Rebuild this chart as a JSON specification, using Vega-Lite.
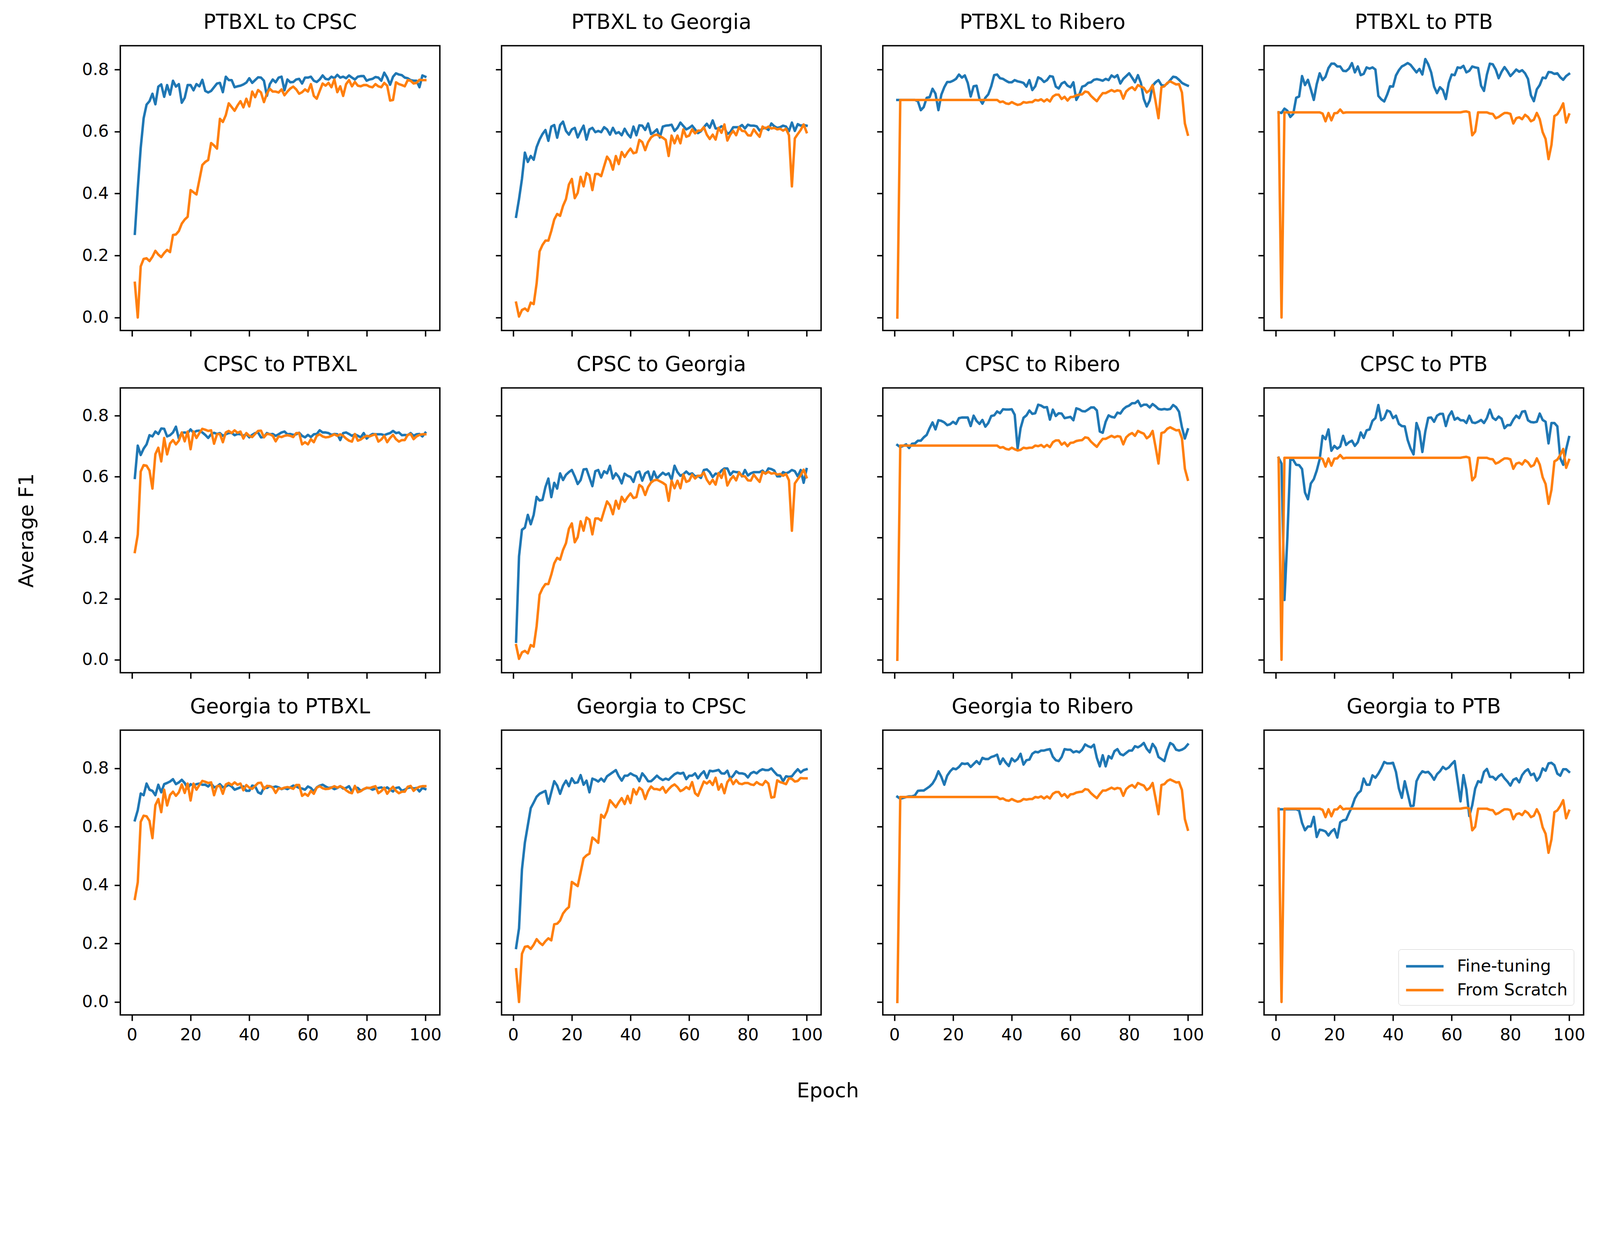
{
"$schema": "https://vega.github.io/schema/vega-lite/v6.json",
"padding": {"left": 40, "top": 30, "right": 30, "bottom": 30},
"background": "white",
"config": {
 "font": "DejaVu Sans",
 "view": {"stroke": "black", "strokeWidth": 3.6},
 "axis": {"domain": false, "grid": false, "tickColor": "black", "tickWidth": 3.6, "tickSize": 15, "labelFont": "DejaVu Sans", "labelFontSize": 43, "labelColor": "black", "labelPadding": 15, "labelFlush": false, "titleFont": "DejaVu Sans", "titleFontSize": 52, "titleFontWeight": "normal", "titleColor": "black", "titlePadding": 114},
 "title": {"font": "DejaVu Sans", "fontSize": 53, "fontWeight": "normal", "color": "black", "anchor": "middle", "frame": "group", "offset": 32, "baseline": "alphabetic"},
 "line": {"strokeWidth": 6.3, "strokeJoin": "round", "strokeCap": "square"}
},
"title": {"text": "Epoch", "orient": "bottom", "anchor": "middle", "frame": "bounds", "baseline": "top", "offset": 95, "dx": 69, "fontSize": 52, "font": "DejaVu Sans", "fontWeight": "normal", "color": "black"},
"datasets": {"d": [
{"e":1,"f1":0.27,"f2":0.325,"f3":0.702,"f4":0.662,"f5":0.596,"f6":0.059,"f7":0.704,"f8":0.662,"f9":0.622,"f10":0.185,"f11":0.703,"f12":0.66,"sc":0.112,"sg":0.048,"sr":0.0,"sp":0.662,"sx":0.353},
{"e":2,"f1":0.416,"f2":0.382,"f3":0.702,"f4":0.66,"f5":0.702,"f6":0.339,"f7":0.697,"f8":0.643,"f9":0.657,"f10":0.252,"f11":0.696,"f12":0.66,"sc":0.0,"sg":0.003,"sr":0.702,"sp":0.0,"sx":0.41},
{"e":3,"f1":0.547,"f2":0.447,"f3":0.702,"f4":0.674,"f5":0.671,"f6":0.426,"f7":0.701,"f8":0.196,"f9":0.714,"f10":0.454,"f11":0.699,"f12":0.66,"sc":0.165,"sg":0.024,"sr":0.702,"sp":0.662,"sx":0.617},
{"e":4,"f1":0.643,"f2":0.532,"f3":0.702,"f4":0.667,"f5":0.692,"f6":0.433,"f7":0.706,"f8":0.402,"f9":0.708,"f10":0.546,"f11":0.702,"f12":0.66,"sc":0.189,"sg":0.029,"sr":0.702,"sp":0.662,"sx":0.638},
{"e":5,"f1":0.687,"f2":0.502,"f3":0.702,"f4":0.647,"f5":0.706,"f6":0.475,"f7":0.694,"f8":0.657,"f9":0.748,"f10":0.605,"f11":0.704,"f12":0.66,"sc":0.191,"sg":0.021,"sr":0.702,"sp":0.662,"sx":0.636},
{"e":6,"f1":0.698,"f2":0.521,"f3":0.702,"f4":0.657,"f5":0.736,"f6":0.444,"f7":0.708,"f8":0.655,"f9":0.727,"f10":0.664,"f11":0.704,"f12":0.66,"sc":0.182,"sg":0.048,"sr":0.702,"sp":0.662,"sx":0.62},
{"e":7,"f1":0.722,"f2":0.509,"f3":0.702,"f4":0.709,"f5":0.732,"f6":0.475,"f7":0.709,"f8":0.639,"f9":0.723,"f10":0.683,"f11":0.708,"f12":0.66,"sc":0.196,"sg":0.043,"sr":0.702,"sp":0.662,"sx":0.561},
{"e":8,"f1":0.688,"f2":0.55,"f3":0.698,"f4":0.713,"f5":0.748,"f6":0.534,"f7":0.718,"f8":0.638,"f9":0.708,"f10":0.703,"f11":0.723,"f12":0.655,"sc":0.215,"sg":0.11,"sr":0.702,"sp":0.662,"sx":0.674},
{"e":9,"f1":0.745,"f2":0.574,"f3":0.669,"f4":0.779,"f5":0.74,"f6":0.522,"f7":0.718,"f8":0.625,"f9":0.744,"f10":0.713,"f11":0.724,"f12":0.613,"sc":0.203,"sg":0.213,"sr":0.702,"sp":0.662,"sx":0.695},
{"e":10,"f1":0.752,"f2":0.592,"f3":0.679,"f4":0.75,"f5":0.758,"f6":0.524,"f7":0.729,"f8":0.548,"f9":0.718,"f10":0.718,"f11":0.724,"f12":0.588,"sc":0.195,"sg":0.234,"sr":0.702,"sp":0.662,"sx":0.65},
{"e":11,"f1":0.712,"f2":0.605,"f3":0.709,"f4":0.767,"f5":0.757,"f6":0.566,"f7":0.737,"f8":0.526,"f9":0.746,"f10":0.723,"f11":0.731,"f12":0.601,"sc":0.208,"sg":0.248,"sr":0.702,"sp":0.662,"sx":0.727},
{"e":12,"f1":0.75,"f2":0.57,"f3":0.711,"f4":0.736,"f5":0.732,"f6":0.594,"f7":0.759,"f8":0.578,"f9":0.75,"f10":0.679,"f11":0.738,"f12":0.601,"sc":0.218,"sg":0.248,"sr":0.702,"sp":0.662,"sx":0.673},
{"e":13,"f1":0.719,"f2":0.616,"f3":0.738,"f4":0.702,"f5":0.736,"f6":0.533,"f7":0.778,"f8":0.592,"f9":0.755,"f10":0.718,"f11":0.748,"f12":0.634,"sc":0.211,"sg":0.279,"sr":0.702,"sp":0.662,"sx":0.709},
{"e":14,"f1":0.764,"f2":0.621,"f3":0.722,"f4":0.753,"f5":0.745,"f6":0.58,"f7":0.755,"f8":0.62,"f9":0.763,"f10":0.756,"f11":0.765,"f12":0.565,"sc":0.266,"sg":0.316,"sr":0.702,"sp":0.662,"sx":0.72},
{"e":15,"f1":0.745,"f2":0.58,"f3":0.669,"f4":0.788,"f5":0.764,"f6":0.561,"f7":0.785,"f8":0.657,"f9":0.746,"f10":0.741,"f11":0.79,"f12":0.59,"sc":0.268,"sg":0.334,"sr":0.702,"sp":0.662,"sx":0.706},
{"e":16,"f1":0.753,"f2":0.621,"f3":0.719,"f4":0.766,"f5":0.725,"f6":0.611,"f7":0.783,"f8":0.734,"f9":0.752,"f10":0.713,"f11":0.771,"f12":0.588,"sc":0.279,"sg":0.328,"sr":0.702,"sp":0.658,"sx":0.718},
{"e":17,"f1":0.693,"f2":0.632,"f3":0.743,"f4":0.777,"f5":0.744,"f6":0.589,"f7":0.778,"f8":0.723,"f9":0.761,"f10":0.741,"f11":0.744,"f12":0.584,"sc":0.303,"sg":0.36,"sr":0.702,"sp":0.633,"sx":0.745},
{"e":18,"f1":0.709,"f2":0.602,"f3":0.76,"f4":0.805,"f5":0.745,"f6":0.606,"f7":0.769,"f8":0.755,"f9":0.75,"f10":0.758,"f11":0.775,"f12":0.57,"sc":0.316,"sg":0.382,"sr":0.702,"sp":0.66,"sx":0.716},
{"e":19,"f1":0.75,"f2":0.59,"f3":0.76,"f4":0.819,"f5":0.743,"f6":0.615,"f7":0.772,"f8":0.685,"f9":0.731,"f10":0.739,"f11":0.79,"f12":0.584,"sc":0.325,"sg":0.429,"sr":0.702,"sp":0.636,"sx":0.748},
{"e":20,"f1":0.75,"f2":0.607,"f3":0.764,"f4":0.819,"f5":0.755,"f6":0.622,"f7":0.78,"f8":0.701,"f9":0.746,"f10":0.766,"f11":0.8,"f12":0.592,"sc":0.411,"sg":0.447,"sr":0.702,"sp":0.659,"sx":0.69},
{"e":21,"f1":0.733,"f2":0.612,"f3":0.77,"f4":0.81,"f5":0.744,"f6":0.601,"f7":0.773,"f8":0.692,"f9":0.741,"f10":0.75,"f11":0.797,"f12":0.563,"sc":0.404,"sg":0.385,"sr":0.702,"sp":0.66,"sx":0.748},
{"e":22,"f1":0.753,"f2":0.581,"f3":0.784,"f4":0.81,"f5":0.75,"f6":0.576,"f7":0.792,"f8":0.699,"f9":0.746,"f10":0.752,"f11":0.805,"f12":0.615,"sc":0.397,"sg":0.402,"sr":0.702,"sp":0.671,"sx":0.727},
{"e":23,"f1":0.746,"f2":0.601,"f3":0.774,"f4":0.796,"f5":0.751,"f6":0.589,"f7":0.794,"f8":0.734,"f9":0.748,"f10":0.777,"f11":0.817,"f12":0.622,"sc":0.444,"sg":0.454,"sr":0.702,"sp":0.66,"sx":0.743},
{"e":24,"f1":0.767,"f2":0.619,"f3":0.781,"f4":0.795,"f5":0.745,"f6":0.624,"f7":0.794,"f8":0.704,"f9":0.744,"f10":0.744,"f11":0.815,"f12":0.624,"sc":0.492,"sg":0.423,"sr":0.702,"sp":0.662,"sx":0.757},
{"e":25,"f1":0.731,"f2":0.574,"f3":0.757,"f4":0.803,"f5":0.737,"f6":0.625,"f7":0.794,"f8":0.713,"f9":0.744,"f10":0.758,"f11":0.817,"f12":0.647,"sc":0.502,"sg":0.466,"sr":0.702,"sp":0.662,"sx":0.754},
{"e":26,"f1":0.726,"f2":0.607,"f3":0.713,"f4":0.821,"f5":0.727,"f6":0.597,"f7":0.766,"f8":0.718,"f9":0.738,"f10":0.718,"f11":0.805,"f12":0.668,"sc":0.508,"sg":0.459,"sr":0.702,"sp":0.662,"sx":0.75},
{"e":27,"f1":0.731,"f2":0.612,"f3":0.746,"f4":0.791,"f5":0.739,"f6":0.569,"f7":0.8,"f8":0.701,"f9":0.748,"f10":0.765,"f11":0.815,"f12":0.697,"sc":0.563,"sg":0.411,"sr":0.702,"sp":0.662,"sx":0.752},
{"e":28,"f1":0.743,"f2":0.598,"f3":0.748,"f4":0.81,"f5":0.744,"f6":0.618,"f7":0.783,"f8":0.713,"f9":0.735,"f10":0.761,"f11":0.825,"f12":0.714,"sc":0.555,"sg":0.463,"sr":0.702,"sp":0.662,"sx":0.708},
{"e":29,"f1":0.755,"f2":0.602,"f3":0.705,"f4":0.782,"f5":0.74,"f6":0.622,"f7":0.773,"f8":0.745,"f9":0.738,"f10":0.755,"f11":0.815,"f12":0.723,"sc":0.545,"sg":0.463,"sr":0.702,"sp":0.662,"sx":0.739},
{"e":30,"f1":0.757,"f2":0.598,"f3":0.69,"f4":0.786,"f5":0.743,"f6":0.597,"f7":0.786,"f8":0.727,"f9":0.746,"f10":0.765,"f11":0.836,"f12":0.765,"sc":0.641,"sg":0.456,"sr":0.702,"sp":0.662,"sx":0.74},
{"e":31,"f1":0.727,"f2":0.614,"f3":0.709,"f4":0.807,"f5":0.734,"f6":0.618,"f7":0.764,"f8":0.752,"f9":0.735,"f10":0.755,"f11":0.832,"f12":0.744,"sc":0.631,"sg":0.488,"sr":0.702,"sp":0.662,"sx":0.713},
{"e":32,"f1":0.777,"f2":0.607,"f3":0.72,"f4":0.803,"f5":0.739,"f6":0.611,"f7":0.776,"f8":0.755,"f9":0.738,"f10":0.773,"f11":0.832,"f12":0.744,"sc":0.653,"sg":0.519,"sr":0.702,"sp":0.662,"sx":0.745},
{"e":33,"f1":0.766,"f2":0.59,"f3":0.746,"f4":0.807,"f5":0.743,"f6":0.636,"f7":0.799,"f8":0.783,"f9":0.744,"f10":0.78,"f11":0.839,"f12":0.776,"sc":0.691,"sg":0.506,"sr":0.702,"sp":0.662,"sx":0.75},
{"e":34,"f1":0.766,"f2":0.612,"f3":0.782,"f4":0.8,"f5":0.744,"f6":0.594,"f7":0.801,"f8":0.792,"f9":0.738,"f10":0.787,"f11":0.842,"f12":0.768,"sc":0.679,"sg":0.477,"sr":0.702,"sp":0.662,"sx":0.743},
{"e":35,"f1":0.743,"f2":0.594,"f3":0.784,"f4":0.715,"f5":0.736,"f6":0.611,"f7":0.814,"f8":0.835,"f9":0.727,"f10":0.794,"f11":0.847,"f12":0.782,"sc":0.667,"sg":0.521,"sr":0.702,"sp":0.662,"sx":0.752},
{"e":36,"f1":0.746,"f2":0.598,"f3":0.772,"f4":0.704,"f5":0.74,"f6":0.599,"f7":0.808,"f8":0.785,"f9":0.731,"f10":0.773,"f11":0.815,"f12":0.8,"sc":0.684,"sg":0.495,"sr":0.695,"sp":0.662,"sx":0.744},
{"e":37,"f1":0.748,"f2":0.588,"f3":0.77,"f4":0.697,"f5":0.739,"f6":0.578,"f7":0.821,"f8":0.792,"f9":0.735,"f10":0.758,"f11":0.834,"f12":0.822,"sc":0.698,"sg":0.534,"sr":0.697,"sp":0.662,"sx":0.748},
{"e":38,"f1":0.752,"f2":0.609,"f3":0.764,"f4":0.719,"f5":0.734,"f6":0.61,"f7":0.82,"f8":0.817,"f9":0.738,"f10":0.775,"f11":0.819,"f12":0.817,"sc":0.678,"sg":0.518,"sr":0.691,"sp":0.662,"sx":0.725},
{"e":39,"f1":0.758,"f2":0.592,"f3":0.759,"f4":0.746,"f5":0.74,"f6":0.603,"f7":0.82,"f8":0.813,"f9":0.723,"f10":0.775,"f11":0.808,"f12":0.817,"sc":0.706,"sg":0.533,"sr":0.689,"sp":0.662,"sx":0.743},
{"e":40,"f1":0.772,"f2":0.581,"f3":0.759,"f4":0.745,"f5":0.729,"f6":0.599,"f7":0.821,"f8":0.792,"f9":0.723,"f10":0.783,"f11":0.834,"f12":0.819,"sc":0.681,"sg":0.545,"sr":0.695,"sp":0.662,"sx":0.734},
{"e":41,"f1":0.757,"f2":0.616,"f3":0.766,"f4":0.781,"f5":0.737,"f6":0.583,"f7":0.803,"f8":0.8,"f9":0.741,"f10":0.777,"f11":0.824,"f12":0.788,"sc":0.729,"sg":0.53,"sr":0.69,"sp":0.662,"sx":0.73},
{"e":42,"f1":0.766,"f2":0.588,"f3":0.762,"f4":0.798,"f5":0.743,"f6":0.613,"f7":0.692,"f8":0.773,"f9":0.739,"f10":0.773,"f11":0.832,"f12":0.731,"sc":0.711,"sg":0.533,"sr":0.686,"sp":0.662,"sx":0.74},
{"e":43,"f1":0.775,"f2":0.62,"f3":0.76,"f4":0.81,"f5":0.745,"f6":0.617,"f7":0.759,"f8":0.766,"f9":0.718,"f10":0.756,"f11":0.85,"f12":0.699,"sc":0.734,"sg":0.573,"sr":0.688,"sp":0.662,"sx":0.75},
{"e":44,"f1":0.774,"f2":0.619,"f3":0.757,"f4":0.815,"f5":0.729,"f6":0.587,"f7":0.793,"f8":0.765,"f9":0.713,"f10":0.783,"f11":0.813,"f12":0.756,"sc":0.726,"sg":0.566,"sr":0.695,"sp":0.662,"sx":0.751},
{"e":45,"f1":0.764,"f2":0.605,"f3":0.745,"f4":0.821,"f5":0.73,"f6":0.611,"f7":0.801,"f8":0.72,"f9":0.735,"f10":0.771,"f11":0.828,"f12":0.714,"sc":0.695,"sg":0.54,"sr":0.693,"sp":0.662,"sx":0.729},
{"e":46,"f1":0.715,"f2":0.626,"f3":0.766,"f4":0.815,"f5":0.743,"f6":0.617,"f7":0.817,"f8":0.692,"f9":0.733,"f10":0.756,"f11":0.83,"f12":0.671,"sc":0.722,"sg":0.566,"sr":0.695,"sp":0.662,"sx":0.74},
{"e":47,"f1":0.753,"f2":0.592,"f3":0.734,"f4":0.803,"f5":0.739,"f6":0.587,"f7":0.806,"f8":0.673,"f9":0.739,"f10":0.756,"f11":0.85,"f12":0.672,"sc":0.738,"sg":0.581,"sr":0.695,"sp":0.662,"sx":0.739},
{"e":48,"f1":0.768,"f2":0.598,"f3":0.746,"f4":0.791,"f5":0.74,"f6":0.617,"f7":0.808,"f8":0.776,"f9":0.735,"f10":0.765,"f11":0.857,"f12":0.756,"sc":0.729,"sg":0.588,"sr":0.702,"sp":0.662,"sx":0.734},
{"e":49,"f1":0.759,"f2":0.607,"f3":0.775,"f4":0.802,"f5":0.734,"f6":0.594,"f7":0.836,"f8":0.748,"f9":0.738,"f10":0.775,"f11":0.855,"f12":0.777,"sc":0.729,"sg":0.59,"sr":0.7,"sp":0.662,"sx":0.716},
{"e":50,"f1":0.774,"f2":0.581,"f3":0.77,"f4":0.784,"f5":0.739,"f6":0.604,"f7":0.833,"f8":0.681,"f9":0.735,"f10":0.766,"f11":0.861,"f12":0.79,"sc":0.726,"sg":0.585,"sr":0.704,"sp":0.662,"sx":0.732},
{"e":51,"f1":0.777,"f2":0.616,"f3":0.76,"f4":0.834,"f5":0.745,"f6":0.613,"f7":0.827,"f8":0.748,"f9":0.729,"f10":0.76,"f11":0.861,"f12":0.786,"sc":0.736,"sg":0.58,"sr":0.697,"sp":0.662,"sx":0.73},
{"e":52,"f1":0.733,"f2":0.619,"f3":0.766,"f4":0.817,"f5":0.748,"f6":0.606,"f7":0.828,"f8":0.793,"f9":0.733,"f10":0.765,"f11":0.864,"f12":0.788,"sc":0.717,"sg":0.573,"sr":0.704,"sp":0.662,"sx":0.734},
{"e":53,"f1":0.768,"f2":0.62,"f3":0.779,"f4":0.791,"f5":0.739,"f6":0.611,"f7":0.787,"f8":0.794,"f9":0.729,"f10":0.761,"f11":0.866,"f12":0.777,"sc":0.729,"sg":0.521,"sr":0.697,"sp":0.662,"sx":0.736},
{"e":54,"f1":0.759,"f2":0.622,"f3":0.777,"f4":0.745,"f5":0.74,"f6":0.59,"f7":0.82,"f8":0.78,"f9":0.735,"f10":0.771,"f11":0.84,"f12":0.761,"sc":0.739,"sg":0.587,"sr":0.713,"sp":0.662,"sx":0.734},
{"e":55,"f1":0.76,"f2":0.602,"f3":0.745,"f4":0.724,"f5":0.737,"f6":0.636,"f7":0.799,"f8":0.8,"f9":0.741,"f10":0.78,"f11":0.828,"f12":0.78,"sc":0.745,"sg":0.562,"sr":0.719,"sp":0.662,"sx":0.73},
{"e":56,"f1":0.768,"f2":0.612,"f3":0.739,"f4":0.743,"f5":0.739,"f6":0.615,"f7":0.808,"f8":0.806,"f9":0.738,"f10":0.785,"f11":0.825,"f12":0.79,"sc":0.736,"sg":0.587,"sr":0.719,"sp":0.662,"sx":0.743},
{"e":57,"f1":0.77,"f2":0.629,"f3":0.755,"f4":0.734,"f5":0.744,"f6":0.603,"f7":0.807,"f8":0.806,"f9":0.733,"f10":0.782,"f11":0.839,"f12":0.805,"sc":0.722,"sg":0.562,"sr":0.705,"sp":0.662,"sx":0.743},
{"e":58,"f1":0.755,"f2":0.618,"f3":0.76,"f4":0.705,"f5":0.734,"f6":0.608,"f7":0.792,"f8":0.766,"f9":0.731,"f10":0.785,"f11":0.866,"f12":0.797,"sc":0.727,"sg":0.607,"sr":0.712,"sp":0.662,"sx":0.706},
{"e":59,"f1":0.774,"f2":0.607,"f3":0.748,"f4":0.757,"f5":0.729,"f6":0.617,"f7":0.794,"f8":0.799,"f9":0.727,"f10":0.763,"f11":0.864,"f12":0.803,"sc":0.736,"sg":0.583,"sr":0.7,"sp":0.662,"sx":0.713},
{"e":60,"f1":0.774,"f2":0.612,"f3":0.743,"f4":0.784,"f5":0.737,"f6":0.608,"f7":0.796,"f8":0.814,"f9":0.738,"f10":0.775,"f11":0.864,"f12":0.815,"sc":0.729,"sg":0.587,"sr":0.711,"sp":0.662,"sx":0.706},
{"e":61,"f1":0.777,"f2":0.619,"f3":0.759,"f4":0.782,"f5":0.73,"f6":0.611,"f7":0.785,"f8":0.787,"f9":0.733,"f10":0.775,"f11":0.855,"f12":0.825,"sc":0.753,"sg":0.607,"sr":0.712,"sp":0.662,"sx":0.723},
{"e":62,"f1":0.764,"f2":0.607,"f3":0.702,"f4":0.807,"f5":0.739,"f6":0.601,"f7":0.824,"f8":0.793,"f9":0.721,"f10":0.783,"f11":0.859,"f12":0.756,"sc":0.715,"sg":0.594,"sr":0.717,"sp":0.662,"sx":0.713},
{"e":63,"f1":0.76,"f2":0.595,"f3":0.719,"f4":0.805,"f5":0.74,"f6":0.603,"f7":0.821,"f8":0.785,"f9":0.735,"f10":0.766,"f11":0.855,"f12":0.687,"sc":0.706,"sg":0.603,"sr":0.719,"sp":0.662,"sx":0.734},
{"e":64,"f1":0.768,"f2":0.601,"f3":0.745,"f4":0.812,"f5":0.752,"f6":0.596,"f7":0.815,"f8":0.785,"f9":0.741,"f10":0.78,"f11":0.864,"f12":0.777,"sc":0.731,"sg":0.603,"sr":0.72,"sp":0.664,"sx":0.739},
{"e":65,"f1":0.781,"f2":0.614,"f3":0.748,"f4":0.791,"f5":0.745,"f6":0.622,"f7":0.814,"f8":0.776,"f9":0.744,"f10":0.79,"f11":0.882,"f12":0.727,"sc":0.755,"sg":0.614,"sr":0.729,"sp":0.665,"sx":0.732},
{"e":66,"f1":0.77,"f2":0.625,"f3":0.757,"f4":0.796,"f5":0.745,"f6":0.624,"f7":0.82,"f8":0.8,"f9":0.738,"f10":0.767,"f11":0.876,"f12":0.637,"sc":0.748,"sg":0.59,"sr":0.727,"sp":0.662,"sx":0.729},
{"e":67,"f1":0.768,"f2":0.612,"f3":0.759,"f4":0.81,"f5":0.743,"f6":0.615,"f7":0.827,"f8":0.778,"f9":0.733,"f10":0.792,"f11":0.872,"f12":0.674,"sc":0.757,"sg":0.576,"sr":0.715,"sp":0.588,"sx":0.73},
{"e":68,"f1":0.777,"f2":0.636,"f3":0.767,"f4":0.807,"f5":0.737,"f6":0.599,"f7":0.827,"f8":0.776,"f9":0.735,"f10":0.79,"f11":0.881,"f12":0.731,"sc":0.743,"sg":0.59,"sr":0.706,"sp":0.6,"sx":0.734},
{"e":69,"f1":0.772,"f2":0.61,"f3":0.769,"f4":0.805,"f5":0.74,"f6":0.61,"f7":0.817,"f8":0.78,"f9":0.729,"f10":0.792,"f11":0.836,"f12":0.756,"sc":0.768,"sg":0.574,"sr":0.698,"sp":0.662,"sx":0.739},
{"e":70,"f1":0.783,"f2":0.61,"f3":0.767,"f4":0.748,"f5":0.739,"f6":0.608,"f7":0.748,"f8":0.786,"f9":0.733,"f10":0.795,"f11":0.807,"f12":0.752,"sc":0.727,"sg":0.612,"sr":0.712,"sp":0.662,"sx":0.734},
{"e":71,"f1":0.774,"f2":0.617,"f3":0.764,"f4":0.731,"f5":0.72,"f6":0.62,"f7":0.744,"f8":0.776,"f9":0.739,"f10":0.783,"f11":0.845,"f12":0.788,"sc":0.746,"sg":0.596,"sr":0.724,"sp":0.662,"sx":0.739},
{"e":72,"f1":0.777,"f2":0.612,"f3":0.77,"f4":0.784,"f5":0.743,"f6":0.627,"f7":0.78,"f8":0.792,"f9":0.731,"f10":0.782,"f11":0.807,"f12":0.798,"sc":0.715,"sg":0.623,"sr":0.724,"sp":0.662,"sx":0.734},
{"e":73,"f1":0.772,"f2":0.592,"f3":0.766,"f4":0.819,"f5":0.745,"f6":0.627,"f7":0.801,"f8":0.82,"f9":0.733,"f10":0.792,"f11":0.842,"f12":0.771,"sc":0.753,"sg":0.571,"sr":0.729,"sp":0.658,"sx":0.725},
{"e":74,"f1":0.781,"f2":0.598,"f3":0.781,"f4":0.817,"f5":0.74,"f6":0.606,"f7":0.796,"f8":0.793,"f9":0.739,"f10":0.765,"f11":0.834,"f12":0.771,"sc":0.766,"sg":0.59,"sr":0.734,"sp":0.657,"sx":0.718},
{"e":75,"f1":0.774,"f2":0.614,"f3":0.775,"f4":0.8,"f5":0.734,"f6":0.617,"f7":0.794,"f8":0.786,"f9":0.721,"f10":0.775,"f11":0.859,"f12":0.761,"sc":0.746,"sg":0.602,"sr":0.729,"sp":0.643,"sx":0.715},
{"e":76,"f1":0.768,"f2":0.614,"f3":0.782,"f4":0.772,"f5":0.739,"f6":0.615,"f7":0.81,"f8":0.797,"f9":0.735,"f10":0.79,"f11":0.866,"f12":0.773,"sc":0.76,"sg":0.588,"sr":0.733,"sp":0.647,"sx":0.74},
{"e":77,"f1":0.777,"f2":0.614,"f3":0.755,"f4":0.793,"f5":0.734,"f6":0.615,"f7":0.807,"f8":0.79,"f9":0.733,"f10":0.783,"f11":0.849,"f12":0.78,"sc":0.748,"sg":0.614,"sr":0.731,"sp":0.654,"sx":0.718},
{"e":78,"f1":0.779,"f2":0.621,"f3":0.77,"f4":0.808,"f5":0.729,"f6":0.601,"f7":0.821,"f8":0.759,"f9":0.723,"f10":0.783,"f11":0.845,"f12":0.766,"sc":0.746,"sg":0.602,"sr":0.706,"sp":0.66,"sx":0.722},
{"e":79,"f1":0.779,"f2":0.61,"f3":0.779,"f4":0.795,"f5":0.743,"f6":0.622,"f7":0.829,"f8":0.769,"f9":0.729,"f10":0.78,"f11":0.853,"f12":0.755,"sc":0.75,"sg":0.601,"sr":0.729,"sp":0.66,"sx":0.729},
{"e":80,"f1":0.764,"f2":0.622,"f3":0.788,"f4":0.779,"f5":0.725,"f6":0.604,"f7":0.833,"f8":0.769,"f9":0.733,"f10":0.769,"f11":0.861,"f12":0.741,"sc":0.75,"sg":0.588,"sr":0.738,"sp":0.657,"sx":0.734},
{"e":81,"f1":0.768,"f2":0.619,"f3":0.774,"f4":0.789,"f5":0.734,"f6":0.611,"f7":0.841,"f8":0.787,"f9":0.733,"f10":0.783,"f11":0.861,"f12":0.761,"sc":0.745,"sg":0.587,"sr":0.743,"sp":0.626,"sx":0.732},
{"e":82,"f1":0.77,"f2":0.619,"f3":0.759,"f4":0.8,"f5":0.74,"f6":0.615,"f7":0.841,"f8":0.8,"f9":0.727,"f10":0.788,"f11":0.876,"f12":0.766,"sc":0.743,"sg":0.607,"sr":0.734,"sp":0.643,"sx":0.736},
{"e":83,"f1":0.776,"f2":0.617,"f3":0.782,"f4":0.793,"f5":0.739,"f6":0.615,"f7":0.849,"f8":0.792,"f9":0.731,"f10":0.783,"f11":0.872,"f12":0.752,"sc":0.753,"sg":0.594,"sr":0.75,"sp":0.646,"sx":0.739},
{"e":84,"f1":0.774,"f2":0.603,"f3":0.757,"f4":0.798,"f5":0.739,"f6":0.615,"f7":0.831,"f8":0.813,"f9":0.733,"f10":0.792,"f11":0.878,"f12":0.777,"sc":0.746,"sg":0.583,"sr":0.745,"sp":0.64,"sx":0.715},
{"e":85,"f1":0.764,"f2":0.61,"f3":0.705,"f4":0.788,"f5":0.739,"f6":0.62,"f7":0.836,"f8":0.815,"f9":0.735,"f10":0.797,"f11":0.887,"f12":0.79,"sc":0.743,"sg":0.616,"sr":0.741,"sp":0.654,"sx":0.722},
{"e":86,"f1":0.79,"f2":0.612,"f3":0.681,"f4":0.77,"f5":0.736,"f6":0.61,"f7":0.836,"f8":0.785,"f9":0.729,"f10":0.794,"f11":0.867,"f12":0.797,"sc":0.757,"sg":0.61,"sr":0.726,"sp":0.647,"sx":0.734},
{"e":87,"f1":0.774,"f2":0.605,"f3":0.7,"f4":0.717,"f5":0.74,"f6":0.627,"f7":0.827,"f8":0.779,"f9":0.735,"f10":0.794,"f11":0.855,"f12":0.777,"sc":0.748,"sg":0.616,"sr":0.733,"sp":0.633,"sx":0.713},
{"e":88,"f1":0.751,"f2":0.626,"f3":0.748,"f4":0.698,"f5":0.743,"f6":0.625,"f7":0.838,"f8":0.778,"f9":0.727,"f10":0.8,"f11":0.884,"f12":0.782,"sc":0.7,"sg":0.61,"sr":0.75,"sp":0.638,"sx":0.727},
{"e":89,"f1":0.777,"f2":0.617,"f3":0.759,"f4":0.736,"f5":0.75,"f6":0.62,"f7":0.831,"f8":0.78,"f9":0.721,"f10":0.788,"f11":0.87,"f12":0.758,"sc":0.702,"sg":0.612,"sr":0.698,"sp":0.66,"sx":0.737},
{"e":90,"f1":0.788,"f2":0.612,"f3":0.766,"f4":0.75,"f5":0.743,"f6":0.601,"f7":0.822,"f8":0.807,"f9":0.733,"f10":0.777,"f11":0.839,"f12":0.771,"sc":0.759,"sg":0.607,"sr":0.643,"sp":0.64,"sx":0.723},
{"e":91,"f1":0.784,"f2":0.614,"f3":0.75,"f4":0.774,"f5":0.745,"f6":0.601,"f7":0.82,"f8":0.786,"f9":0.735,"f10":0.775,"f11":0.832,"f12":0.8,"sc":0.753,"sg":0.609,"sr":0.743,"sp":0.598,"sx":0.715},
{"e":92,"f1":0.782,"f2":0.619,"f3":0.748,"f4":0.772,"f5":0.736,"f6":0.615,"f7":0.822,"f8":0.78,"f9":0.723,"f10":0.756,"f11":0.825,"f12":0.792,"sc":0.75,"sg":0.603,"sr":0.746,"sp":0.576,"sx":0.72},
{"e":93,"f1":0.774,"f2":0.616,"f3":0.755,"f4":0.792,"f5":0.737,"f6":0.611,"f7":0.82,"f8":0.709,"f9":0.727,"f10":0.773,"f11":0.861,"f12":0.817,"sc":0.746,"sg":0.609,"sr":0.757,"sp":0.511,"sx":0.72},
{"e":94,"f1":0.772,"f2":0.601,"f3":0.766,"f4":0.791,"f5":0.736,"f6":0.615,"f7":0.822,"f8":0.776,"f9":0.733,"f10":0.771,"f11":0.887,"f12":0.819,"sc":0.766,"sg":0.588,"sr":0.762,"sp":0.557,"sx":0.737},
{"e":95,"f1":0.766,"f2":0.629,"f3":0.777,"f4":0.786,"f5":0.743,"f6":0.622,"f7":0.835,"f8":0.776,"f9":0.735,"f10":0.773,"f11":0.881,"f12":0.811,"sc":0.764,"sg":0.423,"sr":0.757,"sp":0.65,"sx":0.74},
{"e":96,"f1":0.764,"f2":0.602,"f3":0.775,"f4":0.788,"f5":0.734,"f6":0.618,"f7":0.828,"f8":0.765,"f9":0.731,"f10":0.786,"f11":0.864,"f12":0.782,"sc":0.755,"sg":0.578,"sr":0.752,"sp":0.656,"sx":0.723},
{"e":97,"f1":0.764,"f2":0.624,"f3":0.767,"f4":0.775,"f5":0.739,"f6":0.601,"f7":0.813,"f8":0.66,"f9":0.733,"f10":0.797,"f11":0.861,"f12":0.775,"sc":0.757,"sg":0.592,"sr":0.753,"sp":0.671,"sx":0.732},
{"e":98,"f1":0.743,"f2":0.619,"f3":0.757,"f4":0.767,"f5":0.74,"f6":0.622,"f7":0.762,"f8":0.639,"f9":0.721,"f10":0.786,"f11":0.864,"f12":0.797,"sc":0.767,"sg":0.605,"sr":0.726,"sp":0.691,"sx":0.737},
{"e":99,"f1":0.781,"f2":0.621,"f3":0.752,"f4":0.779,"f5":0.732,"f6":0.58,"f7":0.725,"f8":0.69,"f9":0.733,"f10":0.794,"f11":0.87,"f12":0.797,"sc":0.766,"sg":0.623,"sr":0.626,"sp":0.629,"sx":0.739},
{"e":100,"f1":0.777,"f2":0.619,"f3":0.748,"f4":0.786,"f5":0.744,"f6":0.625,"f7":0.755,"f8":0.73,"f9":0.729,"f10":0.797,"f11":0.882,"f12":0.788,"sc":0.766,"sg":0.598,"sr":0.59,"sp":0.655,"sx":0.739}
]},
"data": {"name": "d"},
"columns": 4,
"spacing": {"row": 147, "column": 158},
"bounds": "flush",
"resolve": {"scale": {"color": "independent"}, "legend": {"color": "independent"}},
"concat": [
{"title": "PTBXL to CPSC", "width": 818, "height": 729,
 "encoding": {"x": {"field": "e", "type": "quantitative", "scale": {"domain": [-3.95, 104.95], "nice": false, "zero": false}, "axis": {"values": [0,20,40,60,80,100], "labels": false, "title": null}}},
 "layer": [
  {"mark": "line", "encoding": {"y": {"field": "f1", "type": "quantitative", "title": null, "scale": {"domain": [-0.042, 0.877], "nice": false, "zero": false}, "axis": {"values": [0,0.2,0.4,0.6,0.8], "format": ".1f", "labels": true}}, "color": {"datum": "Fine-tuning", "scale": {"domain": ["Fine-tuning","From Scratch"], "range": ["#1f77b4","#ff7f0e"]}, "legend": null}}},
  {"mark": "line", "encoding": {"y": {"field": "sc", "type": "quantitative", "title": null, "scale": {"domain": [-0.042, 0.877], "nice": false, "zero": false}}, "color": {"datum": "From Scratch", "scale": {"domain": ["Fine-tuning","From Scratch"], "range": ["#1f77b4","#ff7f0e"]}, "legend": null}}}
 ]},
{"title": "PTBXL to Georgia", "width": 818, "height": 729,
 "encoding": {"x": {"field": "e", "type": "quantitative", "scale": {"domain": [-3.95, 104.95], "nice": false, "zero": false}, "axis": {"values": [0,20,40,60,80,100], "labels": false, "title": null}}},
 "layer": [
  {"mark": "line", "encoding": {"y": {"field": "f2", "type": "quantitative", "title": null, "scale": {"domain": [-0.042, 0.877], "nice": false, "zero": false}, "axis": {"values": [0,0.2,0.4,0.6,0.8], "format": ".1f", "labels": false}}, "color": {"datum": "Fine-tuning", "scale": {"domain": ["Fine-tuning","From Scratch"], "range": ["#1f77b4","#ff7f0e"]}, "legend": null}}},
  {"mark": "line", "encoding": {"y": {"field": "sg", "type": "quantitative", "title": null, "scale": {"domain": [-0.042, 0.877], "nice": false, "zero": false}}, "color": {"datum": "From Scratch", "scale": {"domain": ["Fine-tuning","From Scratch"], "range": ["#1f77b4","#ff7f0e"]}, "legend": null}}}
 ]},
{"title": "PTBXL to Ribero", "width": 818, "height": 729,
 "encoding": {"x": {"field": "e", "type": "quantitative", "scale": {"domain": [-3.95, 104.95], "nice": false, "zero": false}, "axis": {"values": [0,20,40,60,80,100], "labels": false, "title": null}}},
 "layer": [
  {"mark": "line", "encoding": {"y": {"field": "f3", "type": "quantitative", "title": null, "scale": {"domain": [-0.042, 0.877], "nice": false, "zero": false}, "axis": {"values": [0,0.2,0.4,0.6,0.8], "format": ".1f", "labels": false}}, "color": {"datum": "Fine-tuning", "scale": {"domain": ["Fine-tuning","From Scratch"], "range": ["#1f77b4","#ff7f0e"]}, "legend": null}}},
  {"mark": "line", "encoding": {"y": {"field": "sr", "type": "quantitative", "title": null, "scale": {"domain": [-0.042, 0.877], "nice": false, "zero": false}}, "color": {"datum": "From Scratch", "scale": {"domain": ["Fine-tuning","From Scratch"], "range": ["#1f77b4","#ff7f0e"]}, "legend": null}}}
 ]},
{"title": "PTBXL to PTB", "width": 818, "height": 729,
 "encoding": {"x": {"field": "e", "type": "quantitative", "scale": {"domain": [-3.95, 104.95], "nice": false, "zero": false}, "axis": {"values": [0,20,40,60,80,100], "labels": false, "title": null}}},
 "layer": [
  {"mark": "line", "encoding": {"y": {"field": "f4", "type": "quantitative", "title": null, "scale": {"domain": [-0.042, 0.877], "nice": false, "zero": false}, "axis": {"values": [0,0.2,0.4,0.6,0.8], "format": ".1f", "labels": false}}, "color": {"datum": "Fine-tuning", "scale": {"domain": ["Fine-tuning","From Scratch"], "range": ["#1f77b4","#ff7f0e"]}, "legend": null}}},
  {"mark": "line", "encoding": {"y": {"field": "sp", "type": "quantitative", "title": null, "scale": {"domain": [-0.042, 0.877], "nice": false, "zero": false}}, "color": {"datum": "From Scratch", "scale": {"domain": ["Fine-tuning","From Scratch"], "range": ["#1f77b4","#ff7f0e"]}, "legend": null}}}
 ]},
{"title": "CPSC to PTBXL", "width": 818, "height": 729,
 "encoding": {"x": {"field": "e", "type": "quantitative", "scale": {"domain": [-3.95, 104.95], "nice": false, "zero": false}, "axis": {"values": [0,20,40,60,80,100], "labels": false, "title": null}}},
 "layer": [
  {"mark": "line", "encoding": {"y": {"field": "f5", "type": "quantitative", "title": "Average F1", "scale": {"domain": [-0.0425, 0.891], "nice": false, "zero": false}, "axis": {"values": [0,0.2,0.4,0.6,0.8], "format": ".1f", "labels": true}}, "color": {"datum": "Fine-tuning", "scale": {"domain": ["Fine-tuning","From Scratch"], "range": ["#1f77b4","#ff7f0e"]}, "legend": null}}},
  {"mark": "line", "encoding": {"y": {"field": "sx", "type": "quantitative", "title": "Average F1", "scale": {"domain": [-0.0425, 0.891], "nice": false, "zero": false}}, "color": {"datum": "From Scratch", "scale": {"domain": ["Fine-tuning","From Scratch"], "range": ["#1f77b4","#ff7f0e"]}, "legend": null}}}
 ]},
{"title": "CPSC to Georgia", "width": 818, "height": 729,
 "encoding": {"x": {"field": "e", "type": "quantitative", "scale": {"domain": [-3.95, 104.95], "nice": false, "zero": false}, "axis": {"values": [0,20,40,60,80,100], "labels": false, "title": null}}},
 "layer": [
  {"mark": "line", "encoding": {"y": {"field": "f6", "type": "quantitative", "title": null, "scale": {"domain": [-0.0425, 0.891], "nice": false, "zero": false}, "axis": {"values": [0,0.2,0.4,0.6,0.8], "format": ".1f", "labels": false}}, "color": {"datum": "Fine-tuning", "scale": {"domain": ["Fine-tuning","From Scratch"], "range": ["#1f77b4","#ff7f0e"]}, "legend": null}}},
  {"mark": "line", "encoding": {"y": {"field": "sg", "type": "quantitative", "title": null, "scale": {"domain": [-0.0425, 0.891], "nice": false, "zero": false}}, "color": {"datum": "From Scratch", "scale": {"domain": ["Fine-tuning","From Scratch"], "range": ["#1f77b4","#ff7f0e"]}, "legend": null}}}
 ]},
{"title": "CPSC to Ribero", "width": 818, "height": 729,
 "encoding": {"x": {"field": "e", "type": "quantitative", "scale": {"domain": [-3.95, 104.95], "nice": false, "zero": false}, "axis": {"values": [0,20,40,60,80,100], "labels": false, "title": null}}},
 "layer": [
  {"mark": "line", "encoding": {"y": {"field": "f7", "type": "quantitative", "title": null, "scale": {"domain": [-0.0425, 0.891], "nice": false, "zero": false}, "axis": {"values": [0,0.2,0.4,0.6,0.8], "format": ".1f", "labels": false}}, "color": {"datum": "Fine-tuning", "scale": {"domain": ["Fine-tuning","From Scratch"], "range": ["#1f77b4","#ff7f0e"]}, "legend": null}}},
  {"mark": "line", "encoding": {"y": {"field": "sr", "type": "quantitative", "title": null, "scale": {"domain": [-0.0425, 0.891], "nice": false, "zero": false}}, "color": {"datum": "From Scratch", "scale": {"domain": ["Fine-tuning","From Scratch"], "range": ["#1f77b4","#ff7f0e"]}, "legend": null}}}
 ]},
{"title": "CPSC to PTB", "width": 818, "height": 729,
 "encoding": {"x": {"field": "e", "type": "quantitative", "scale": {"domain": [-3.95, 104.95], "nice": false, "zero": false}, "axis": {"values": [0,20,40,60,80,100], "labels": false, "title": null}}},
 "layer": [
  {"mark": "line", "encoding": {"y": {"field": "f8", "type": "quantitative", "title": null, "scale": {"domain": [-0.0425, 0.891], "nice": false, "zero": false}, "axis": {"values": [0,0.2,0.4,0.6,0.8], "format": ".1f", "labels": false}}, "color": {"datum": "Fine-tuning", "scale": {"domain": ["Fine-tuning","From Scratch"], "range": ["#1f77b4","#ff7f0e"]}, "legend": null}}},
  {"mark": "line", "encoding": {"y": {"field": "sp", "type": "quantitative", "title": null, "scale": {"domain": [-0.0425, 0.891], "nice": false, "zero": false}}, "color": {"datum": "From Scratch", "scale": {"domain": ["Fine-tuning","From Scratch"], "range": ["#1f77b4","#ff7f0e"]}, "legend": null}}}
 ]},
{"title": "Georgia to PTBXL", "width": 818, "height": 729,
 "encoding": {"x": {"field": "e", "type": "quantitative", "scale": {"domain": [-3.95, 104.95], "nice": false, "zero": false}, "axis": {"values": [0,20,40,60,80,100], "labels": true, "title": null}}},
 "layer": [
  {"mark": "line", "encoding": {"y": {"field": "f9", "type": "quantitative", "title": null, "scale": {"domain": [-0.0444, 0.931], "nice": false, "zero": false}, "axis": {"values": [0,0.2,0.4,0.6,0.8], "format": ".1f", "labels": true}}, "color": {"datum": "Fine-tuning", "scale": {"domain": ["Fine-tuning","From Scratch"], "range": ["#1f77b4","#ff7f0e"]}, "legend": null}}},
  {"mark": "line", "encoding": {"y": {"field": "sx", "type": "quantitative", "title": null, "scale": {"domain": [-0.0444, 0.931], "nice": false, "zero": false}}, "color": {"datum": "From Scratch", "scale": {"domain": ["Fine-tuning","From Scratch"], "range": ["#1f77b4","#ff7f0e"]}, "legend": null}}}
 ]},
{"title": "Georgia to CPSC", "width": 818, "height": 729,
 "encoding": {"x": {"field": "e", "type": "quantitative", "scale": {"domain": [-3.95, 104.95], "nice": false, "zero": false}, "axis": {"values": [0,20,40,60,80,100], "labels": true, "title": null}}},
 "layer": [
  {"mark": "line", "encoding": {"y": {"field": "f10", "type": "quantitative", "title": null, "scale": {"domain": [-0.0444, 0.931], "nice": false, "zero": false}, "axis": {"values": [0,0.2,0.4,0.6,0.8], "format": ".1f", "labels": false}}, "color": {"datum": "Fine-tuning", "scale": {"domain": ["Fine-tuning","From Scratch"], "range": ["#1f77b4","#ff7f0e"]}, "legend": null}}},
  {"mark": "line", "encoding": {"y": {"field": "sc", "type": "quantitative", "title": null, "scale": {"domain": [-0.0444, 0.931], "nice": false, "zero": false}}, "color": {"datum": "From Scratch", "scale": {"domain": ["Fine-tuning","From Scratch"], "range": ["#1f77b4","#ff7f0e"]}, "legend": null}}}
 ]},
{"title": "Georgia to Ribero", "width": 818, "height": 729,
 "encoding": {"x": {"field": "e", "type": "quantitative", "scale": {"domain": [-3.95, 104.95], "nice": false, "zero": false}, "axis": {"values": [0,20,40,60,80,100], "labels": true, "title": null}}},
 "layer": [
  {"mark": "line", "encoding": {"y": {"field": "f11", "type": "quantitative", "title": null, "scale": {"domain": [-0.0444, 0.931], "nice": false, "zero": false}, "axis": {"values": [0,0.2,0.4,0.6,0.8], "format": ".1f", "labels": false}}, "color": {"datum": "Fine-tuning", "scale": {"domain": ["Fine-tuning","From Scratch"], "range": ["#1f77b4","#ff7f0e"]}, "legend": null}}},
  {"mark": "line", "encoding": {"y": {"field": "sr", "type": "quantitative", "title": null, "scale": {"domain": [-0.0444, 0.931], "nice": false, "zero": false}}, "color": {"datum": "From Scratch", "scale": {"domain": ["Fine-tuning","From Scratch"], "range": ["#1f77b4","#ff7f0e"]}, "legend": null}}}
 ]},
{"title": "Georgia to PTB", "width": 818, "height": 729,
 "encoding": {"x": {"field": "e", "type": "quantitative", "scale": {"domain": [-3.95, 104.95], "nice": false, "zero": false}, "axis": {"values": [0,20,40,60,80,100], "labels": true, "title": null}}},
 "layer": [
  {"mark": "line", "encoding": {"y": {"field": "f12", "type": "quantitative", "title": null, "scale": {"domain": [-0.0444, 0.931], "nice": false, "zero": false}, "axis": {"values": [0,0.2,0.4,0.6,0.8], "format": ".1f", "labels": false}}, "color": {"datum": "Fine-tuning", "scale": {"domain": ["Fine-tuning","From Scratch"], "range": ["#1f77b4","#ff7f0e"]}, "legend": {"orient": "bottom-right", "offset": 25, "title": null, "symbolType": "M-1,0H3", "symbolSize": 2304, "symbolStrokeWidth": 6.3, "labelOffset": 79, "rowPadding": 11, "padding": 16, "cornerRadius": 7, "strokeColor": "#cccccc", "fillColor": "rgba(255,255,255,0.8)", "labelFontSize": 43, "labelFont": "DejaVu Sans", "labelColor": "black", "labelLimit": 1000}}}},
  {"mark": "line", "encoding": {"y": {"field": "sp", "type": "quantitative", "title": null, "scale": {"domain": [-0.0444, 0.931], "nice": false, "zero": false}}, "color": {"datum": "From Scratch", "scale": {"domain": ["Fine-tuning","From Scratch"], "range": ["#1f77b4","#ff7f0e"]}}}}
 ]}
]
}
